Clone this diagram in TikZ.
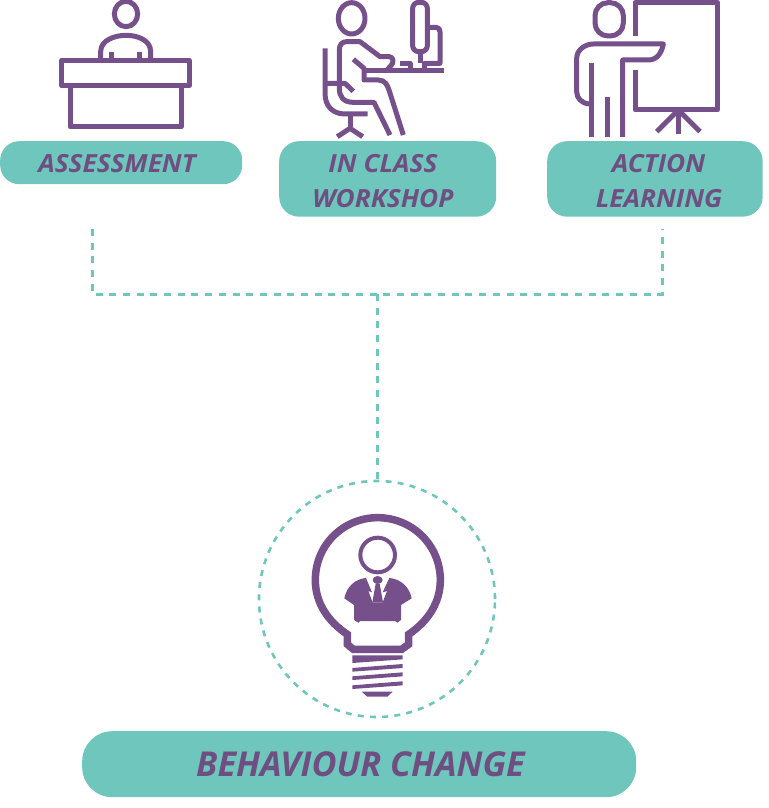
\documentclass[tikz,border=0pt]{standalone}
\usepackage{fontspec}
\setmainfont{Open Sans}
\newfontfamily\widefont[FakeStretch=1.05]{Open Sans}
\definecolor{pur}{HTML}{75508A}
\definecolor{purtext}{HTML}{6F4F82}
\definecolor{teal2}{HTML}{6EC6BC}
\tikzset{
 pill/.style={fill=teal2,inner sep=0pt,anchor=north west},
 lbl/.style={inner sep=0pt,text=purtext,align=center,font=\widefont\bfseries\itshape\fontsize{25}{35}\selectfont},
 biglbl/.style={inner sep=0pt,text=purtext,font=\bfseries\itshape\fontsize{34.3}{40}\selectfont},
 ic/.style={draw=pur,line width=5pt,line join=round},
 conn/.style={draw=teal2,line width=3pt,dash pattern=on 7pt off 6.7pt},
 ringline/.style={draw=teal2,line width=2.6pt,dash pattern=on 6pt off 6.2pt},
 zoomed/.style={x=0.33333pt,y=-0.33333pt}
}
\begin{document}
\begin{tikzpicture}[x=1pt,y=-1pt]
\useasboundingbox (0,0) rectangle (768,808);
% pills
\node[pill,minimum width=242pt,minimum height=43pt,rounded corners=19pt] (a) at (0,141) {};
\node[pill,minimum width=217pt,minimum height=75.5pt,rounded corners=20pt] (b) at (279,141) {};
\node[pill,minimum width=215.5pt,minimum height=75.5pt,rounded corners=20pt] (c) at (547,141) {};
\node[pill,minimum width=554pt,minimum height=66pt,rounded corners=30pt] (d) at (82,731) {};
\node[lbl,anchor=base] (at) at (117,172) {ASSESSMENT};
\node[lbl,anchor=base] (bt1) at (383,172) {IN CLASS};
\node[lbl,anchor=base] (bt2) at (383,207) {WORKSHOP};
\node[lbl,anchor=base] (ct1) at (658.5,172) {ACTION};
\node[lbl,anchor=base] (ct2) at (659,207) {LEARNING};
\node[biglbl,anchor=base] (dt) at (360.5,776) {BEHAVIOUR CHANGE};
% connectors
\node[ringline,circle,minimum size=236pt,inner sep=0pt] (ring) at (377,599) {};
\coordinate (j) at (377,294);
\coordinate (l) at (92,229);
\coordinate (r) at (662,229);
\draw[conn] (l) |- (r |- j) -- (r);
\draw[conn] (j) -- (ring.north);
% desk icon
\begin{scope}[shift={(40,0)},zoomed]
\draw[ic] (258,42) ellipse [x radius=35,y radius=38];
\draw[ic] (182,174) -- (182,155) .. controls (182,120) and (225,106) .. (258,106) .. controls (292,106) and (332,120) .. (332,155) -- (332,174);
\draw[ic] (215,157) -- (215,174) (298,157) -- (298,174);
\draw[ic] (65,181) rectangle (448,256);
\draw[ic] (90,256) -- (90,381) -- (423,381) -- (423,256);
\end{scope}
% desk worker icon
\begin{scope}[shift={(300,0)},zoomed]
\draw[ic] (155,55) ellipse [x radius=40,y radius=47];
\draw[ic] (118,250) -- (118,150) .. controls (118,135) and (125,125) .. (140,125) -- (180,125) -- (240,170) -- (268,170) .. controls (282,170) and (282,190) .. (272,198) -- (258,213);
\draw[ic] (160,178) -- (192,205) -- (192,240) -- (235,240) .. controls (255,240) and (262,255) .. (267,270) -- (310,405);
\draw[ic] (192,213) -- (432,213);
\draw[ic] (75,145) -- (75,280) .. controls (75,320) and (100,342) .. (135,342) -- (203,342);
\draw[ic] (75,250) -- (135,250) -- (160,274);
\draw[ic] (118,250) -- (118,265) .. controls (118,290) and (130,307) .. (160,307) -- (222,307) -- (270,405);
\draw[ic] (150,342) -- (150,385);
\draw[ic] (112,410) -- (150,385) -- (188,410);
\draw[ic,rounded corners=6pt] (338,7) rectangle (382,155);
\draw[ic] (360,155) -- (360,190);
\draw[ic] (385,82) -- (408,82) .. controls (416,82) and (420,88) .. (420,95) -- (420,190) -- (374,190) -- (374,213);
\draw[ic] (300,190) -- (330,190) -- (330,213);
\end{scope}
% presenter icon
\begin{scope}[shift={(550,0)},zoomed]
\draw[ic,rounded corners=13pt] (135,8) rectangle (220,108);
\draw[ic] (255,107) -- (255,7) -- (503,7) -- (503,330) -- (255,330) -- (255,210);
\draw[ic] (385,330) -- (385,402);
\draw[ic] (320,395) -- (385,330) -- (450,395);
\draw[ic] (118,312) .. controls (95,310) and (80,295) .. (80,275) -- (80,175) .. controls (80,150) and (105,132) .. (130,132) -- (340,132) .. controls (335,160) and (320,180) .. (295,180) -- (218,180) -- (218,411);
\draw[ic] (125,190) -- (125,411);
\draw[ic] (172,292) -- (172,411);
\end{scope}
% bulb icon
\begin{scope}[shift={(290,505)},zoomed]
\draw[pur,line width=7.5pt,line join=miter] (172,388) .. controls (115,350) and (76,295) .. (76,225) .. controls (76,120) and (160,38) .. (263,38) .. controls (366,38) and (451,120) .. (451,225) .. controls (451,295) and (412,350) .. (356,388) -- (356,418) -- (335,433) -- (190,433) -- (172,418) -- cycle;
\draw[pur,line width=4pt] (263,150) circle (52);
\fill[pur] (187,451) -- (338,451) -- (338,463) -- (187,474) -- cycle;
\fill[pur] (187,489) -- (338,477) -- (338,489) -- (187,500) -- cycle;
\fill[pur] (187,514) -- (338,502) -- (338,514) -- (187,525) -- cycle;
\fill[pur] (187,541) -- (338,529) -- (338,541) -- (187,552) -- cycle;
\fill[pur] (215,560) -- (308,560) -- (292,575) -- (232,575) -- cycle;
\fill[pur] (228,219) .. controls (195,222) and (170,245) .. (163,280) -- (192,300) -- (192,345) -- (205,353) -- (210,348) -- (315,348) -- (322,353) -- (333,345) -- (333,300) -- (365,280) .. controls (358,245) and (332,222) .. (298,219) -- (278,262) -- (291,258) -- (278,292) -- (248,292) -- (235,258) -- (246,262) -- cycle;
\fill[pur] (263,225) ellipse [x radius=15,y radius=12];
\fill[pur] (257,236) -- (269,236) -- (279,292) -- (247,292) -- cycle;
\end{scope}
\end{tikzpicture}
\end{document}
